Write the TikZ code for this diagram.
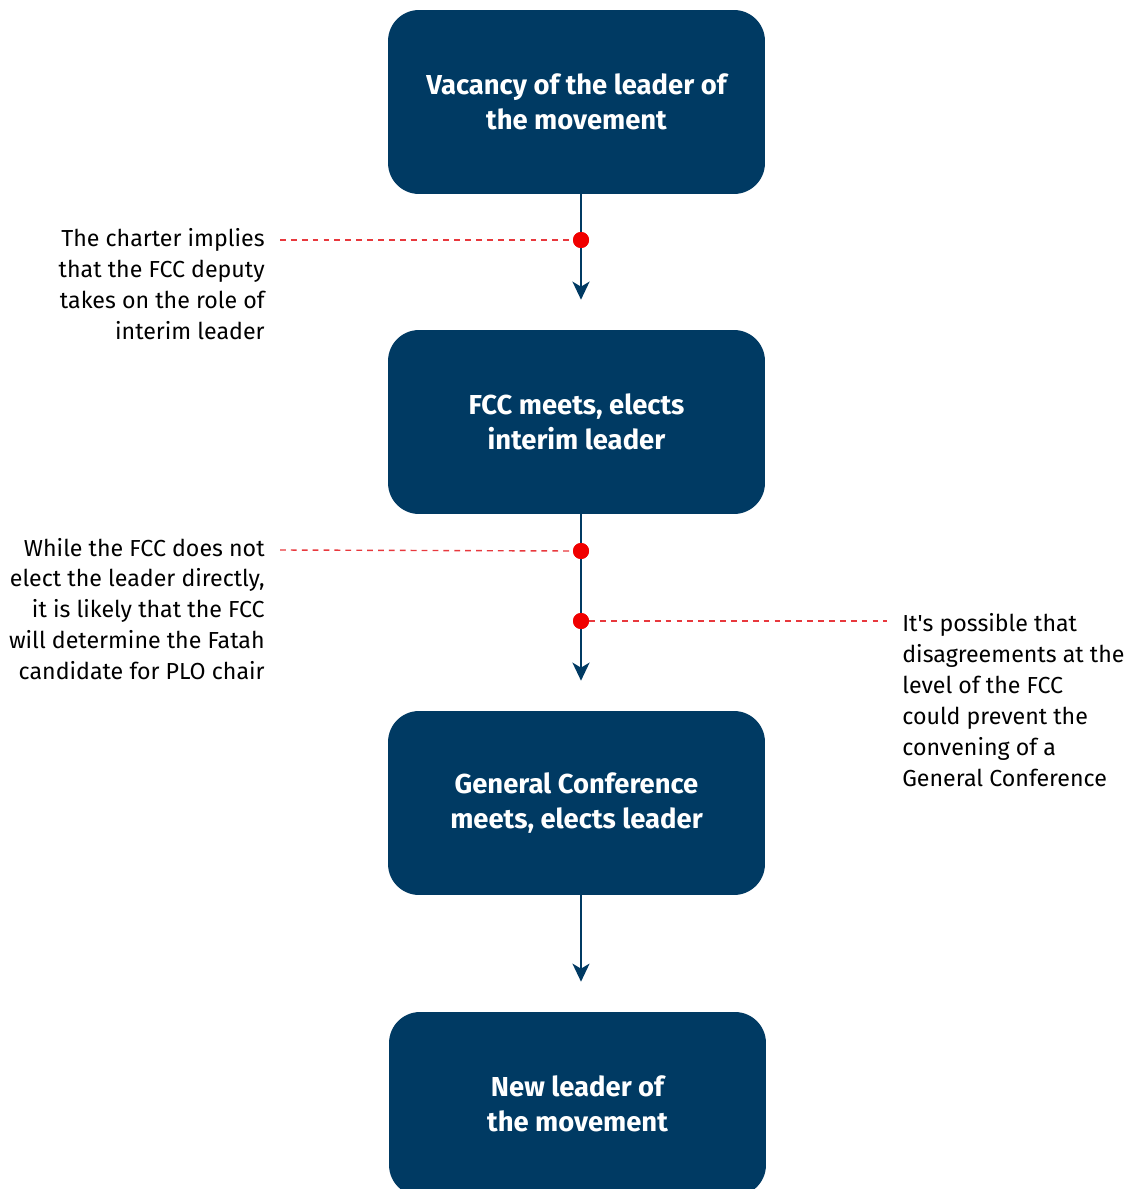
\documentclass[tikz,border=0pt]{standalone}
\usepackage{fontspec}
\setmainfont{Fira Sans}
\usetikzlibrary{arrows.meta}
\definecolor{navy}{HTML}{003A63}
\definecolor{dotred}{HTML}{F00000}
\definecolor{dashred}{HTML}{E8383D}

\begin{document}
\begin{tikzpicture}[x=0.02cm,y=-0.02cm,
    box/.style={fill=navy,rounded corners=0.62cm,minimum width=7.54cm,minimum height=3.68cm,
      align=center,text=white,font=\fontsize{15.6}{19.8}\selectfont\bfseries},
    note/.style={inner sep=0pt,font=\fontsize{13.2}{17.6}\selectfont},
    arr/.style={-{Stealth[length=0.36cm,width=0.34cm,inset=0.1cm]},navy,line width=1.3pt,shorten >=0.6cm},
    pin/.style={circle,fill=dotred,inner sep=0pt,minimum size=0.32cm},
    lead/.style={dashred,line width=0.8pt,dash pattern=on 3.3pt off 2.9pt}]
    \clip (0,0) rectangle (1134,1189);
    \fill[white] (0,0) rectangle (1134,1189);
    \node[box] (vac) at (576.5,102)  {Vacancy of the leader of\\the movement};
    \node[box] (fcc) at (576.5,422)  {FCC meets, elects\\interim leader};
    \node[box] (gc)  at (576.5,803)  {General Conference\\meets, elects leader};
    \node[box] (new) at (577.5,1104) {New leader of\\the movement};
    \node[pin] (d1) at (581,240) {};
    \node[pin] (d2) at (581,551) {};
    \node[pin] (d3) at (581,621) {};
    \node[note,anchor=east,align=right] (n1) at (265,284)
      {The charter implies\\that the FCC deputy\\takes on the role of\\interim leader};
    \node[note,anchor=east,align=right] (n2) at (265,609)
      {While the FCC does not\\elect the leader directly,\\it is likely that the FCC\\will determine the Fatah\\candidate for PLO chair};
    \node[note,anchor=west,align=left] (n3) at (902,700)
      {It\textquotesingle s possible that\\disagreements at the\\level of the FCC\\could prevent the\\convening of a\\General Conference};
    \coordinate (e1) at (280,240);
    \coordinate (e2) at (280,550);
    \coordinate (e3) at (887,621);
    \draw[arr] (vac.south -| d1) -- (fcc.north -| d1);
    \draw[arr] (fcc.south -| d2) -- (gc.north -| d2);
    \draw[arr] (gc.south -| d2) -- (new.north -| d2);
    \draw[lead] (e1) -- (d1.west);
    \draw[lead] (e2) -- (d2.west);
    \draw[lead] (d3.east) -- (e3);
    \node[pin] at (d1) {}; \node[pin] at (d2) {}; \node[pin] at (d3) {};
  \end{tikzpicture}
\end{document}
